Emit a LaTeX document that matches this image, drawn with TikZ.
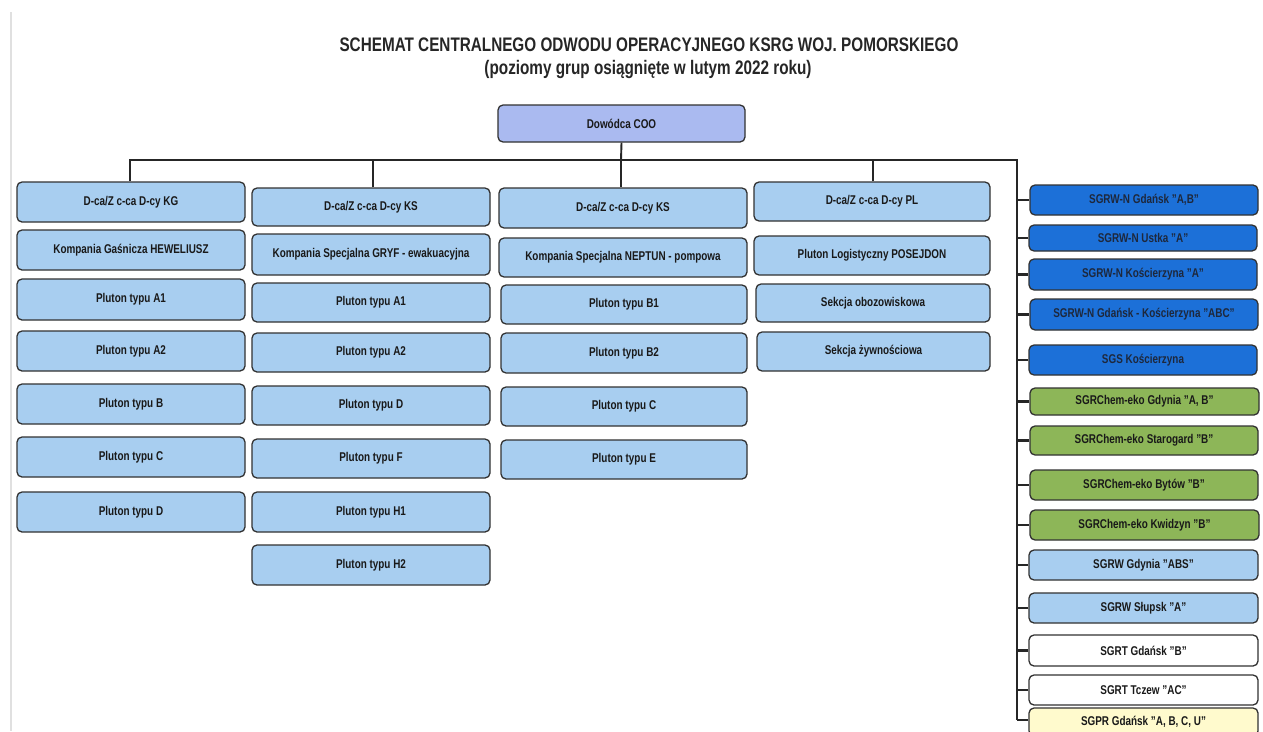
\documentclass[tikz,border=0pt]{standalone}
\usepackage{fontspec}
\setmainfont{Liberation Sans}[FakeStretch=0.78]
\definecolor{lblue}{RGB}{168,206,240}
\definecolor{cooblue}{RGB}{170,186,240}
\definecolor{dblue}{RGB}{28,112,216}
\definecolor{ggreen}{RGB}{141,182,88}
\definecolor{lyellow}{RGB}{255,250,205}
\definecolor{bord}{RGB}{50,50,50}
\definecolor{txt}{RGB}{25,25,25}
\newcommand{\bx}[7]{%
  \pgfmathsetmacro{\boxWd}{#4-#2}\pgfmathsetmacro{\boxHt}{#5-#3}%
  \node[#6, minimum width=\boxWd pt, minimum height=\boxHt pt] (#1) at ({(#2+#4)/2},{(#3+#5)/2}) {#7};}
\tikzset{
  box/.style={draw=bord, line width=1.3pt, rounded corners=5pt, inner sep=0pt,
    font=\fontsize{12.7}{14}\selectfont\bfseries, text=txt},
  bl/.style={box, fill=lblue},
  db/.style={box, fill=dblue, text={rgb,255:red,30;green,40;blue,60}},
  gr/.style={box, fill=ggreen},
  wh/.style={box, fill=white},
  ye/.style={box, fill=lyellow},
  co/.style={box, fill=cooblue},
  ttl/.style={font=\fontsize{19.6}{21}\selectfont\bfseries, text=black!85},
  bus/.style={line width=2.8pt, black!85},
  drop/.style={line width=1.9pt, black!85},
  stub/.style={line width=2.8pt, black!85},
}
\begin{document}
\begin{tikzpicture}[x=1pt,y=-1pt]
\useasboundingbox (0,0) rectangle (1263,731);
\fill[white] (0,0) rectangle (1263,731);
\draw[line width=2pt, black!12] (10.5,12) -- (10.5,731);
% title
\node[ttl] (t1) at (649,45) {SCHEMAT CENTRALNEGO ODWODU OPERACYJNEGO KSRG WOJ. POMORSKIEGO};
\node[ttl] (t2) at (648,69) {(poziomy grup osiągnięte w lutym 2022 roku)};
% top
\bx{coo}{498}{105}{745}{142}{co}{Dowódca COO}
% column 1
\bx{a0}{17}{182}{245}{222}{bl}{D-ca/Z c-ca D-cy KG}
\bx{a1}{17}{230}{245}{270}{bl}{Kompania Gaśnicza HEWELIUSZ}
\bx{a2}{17}{279}{245}{320}{bl}{Pluton typu A1}
\bx{a3}{17}{331}{245}{371}{bl}{Pluton typu A2}
\bx{a4}{17}{384}{245}{424}{bl}{Pluton typu B}
\bx{a5}{17}{437}{245}{477}{bl}{Pluton typu C}
\bx{a6}{17}{492}{245}{532}{bl}{Pluton typu D}
% column 2
\bx{b0}{252}{188}{490}{226}{bl}{D-ca/Z c-ca D-cy KS}
\bx{b1}{252}{234}{490}{275}{bl}{Kompania Specjalna GRYF - ewakuacyjna}
\bx{b2}{252}{283}{490}{322}{bl}{Pluton typu A1}
\bx{b3}{252}{333}{490}{372}{bl}{Pluton typu A2}
\bx{b4}{252}{386}{490}{425}{bl}{Pluton typu D}
\bx{b5}{252}{439}{490}{478}{bl}{Pluton typu F}
\bx{b6}{252}{492}{490}{532}{bl}{Pluton typu H1}
\bx{b7}{252}{545}{490}{585}{bl}{Pluton typu H2}
% column 3
\bx{c0}{499}{188}{747}{228}{bl}{D-ca/Z c-ca D-cy KS}
\bx{c1}{499}{238}{747}{277}{bl}{Kompania Specjalna NEPTUN - pompowa}
\bx{c2}{501}{285}{747}{324}{bl}{Pluton typu B1}
\bx{c3}{501}{333}{747}{373}{bl}{Pluton typu B2}
\bx{c4}{501}{387}{747}{426}{bl}{Pluton typu C}
\bx{c5}{501}{440}{747}{479}{bl}{Pluton typu E}
% column 4
\bx{d0}{754}{182}{990}{221}{bl}{D-ca/Z c-ca D-cy PL}
\bx{d1}{754}{236}{990}{275}{bl}{Pluton Logistyczny POSEJDON}
\bx{d2}{756}{284}{990}{322}{bl}{Sekcja obozowiskowa}
\bx{d3}{757}{332}{990}{371}{bl}{Sekcja żywnościowa}
% right column
\bx{r1}{1030}{185}{1258}{215}{db}{SGRW-N Gdańsk "A,B"}
\bx{r2}{1029}{225}{1257}{251}{db}{SGRW-N Ustka "A"}
\bx{r3}{1029}{259}{1257}{290}{db}{SGRW-N Kościerzyna "A"}
\bx{r4}{1030}{299}{1258}{330}{db}{SGRW-N Gdańsk - Kościerzyna "ABC"}
\bx{r5}{1029}{345}{1257}{375}{db}{SGS Kościerzyna}
\bx{r6}{1030}{388}{1259}{415}{gr}{SGRChem-eko Gdynia "A, B"}
\bx{r7}{1030}{426}{1258}{455}{gr}{SGRChem-eko Starogard "B"}
\bx{r8}{1030}{470}{1258}{500}{gr}{SGRChem-eko Bytów "B"}
\bx{r9}{1030}{510}{1259}{540}{gr}{SGRChem-eko Kwidzyn "B"}
\bx{r10}{1029}{550}{1258}{580}{bl}{SGRW Gdynia "ABS"}
\bx{r11}{1029}{593}{1258}{623}{bl}{SGRW Słupsk "A"}
\bx{r12}{1029}{635}{1258}{666}{wh}{SGRT Gdańsk "B"}
\bx{r13}{1029}{675}{1258}{705}{wh}{SGRT Tczew "AC"}
\bx{r14}{1029}{708}{1258}{736}{ye}{SGPR Gdańsk "A, B, C, U"}
% connectors
\coordinate (busL) at (130,160);
\coordinate (busM) at (621,160);
\coordinate (busR) at (1017,160);
\coordinate (trunkEnd) at (1017,720);
\draw[drop] (coo.south) -- (busM);
\draw[bus, line cap=rect] (busL) -- (busR);
\draw[drop] (busR) -- (trunkEnd);
\draw[drop] (busL) -- (busL |- a0.north);
\draw[drop] (b0.north -| 373,0) -- (373,160);
\draw[drop] (busM) -- (busM |- c0.north);
\draw[drop] (d0.north -| 873,0) -- (873,160);
\foreach \r in {r1,r2,r3,r4,r5,r6,r7,r8,r9,r10,r11,r12,r13}
  \draw[stub] (\r.west) -- (\r.west -| busR);
\draw[stub] (r14.west |- 0,720) -- (trunkEnd);
\end{tikzpicture}
\end{document}
